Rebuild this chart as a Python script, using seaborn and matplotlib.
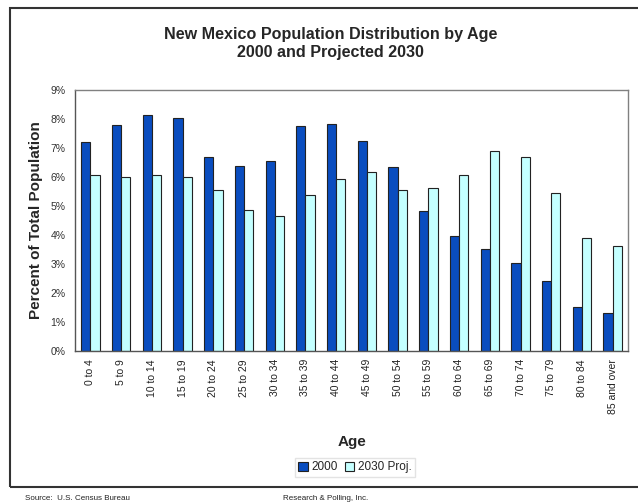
import matplotlib
matplotlib.use("Agg")
import matplotlib.pyplot as plt
from matplotlib.patches import Rectangle
from matplotlib.ticker import FixedLocator
import seaborn as sns
import pandas as pd

# Age groups and share of total population (percent)
age_groups = ["0 to 4", "5 to 9", "10 to 14", "15 to 19", "20 to 24", "25 to 29",
              "30 to 34", "35 to 39", "40 to 44", "45 to 49", "50 to 54", "55 to 59",
              "60 to 64", "65 to 69", "70 to 74", "75 to 79", "80 to 84", "85 and over"]
pct_2000 = [7.21, 7.79, 8.13, 8.03, 6.69, 6.37, 6.55, 7.74, 7.82, 7.22,
            6.33, 4.81, 3.96, 3.50, 3.01, 2.41, 1.52, 1.29]
pct_2030 = [6.07, 6.00, 6.07, 6.00, 5.53, 4.84, 4.66, 5.36, 5.91, 6.15,
            5.53, 5.62, 6.06, 6.90, 6.67, 5.44, 3.90, 3.62]
series_names = ["2000", "2030 Proj."]
y_ticks = [0, 1, 2, 3, 4, 5, 6, 7, 8, 9]

df = pd.DataFrame({
    "Age": age_groups * 2,
    "Percent": pct_2000 + pct_2030,
    "Series": [series_names[0]] * len(age_groups) + [series_names[1]] * len(age_groups),
})

sns.set_style("white")
plt.rcParams["font.family"] = ["Liberation Sans", "DejaVu Sans"]

fig = plt.figure(figsize=(6.38, 5.04), dpi=100)
ax = fig.add_axes([0.1176, 0.304, 0.8668, 0.518])

sns.barplot(data=df, x="Age", y="Percent", hue="Series", order=age_groups,
            hue_order=series_names, palette=["#0A4DBF", "#C4FFFF"],
            saturation=1, width=0.6, edgecolor="#222222", linewidth=0.8, ax=ax)

ax.set_xlim(-0.5, len(age_groups) - 0.5)
ax.set_ylim(0, 9)
ax.set_yticks(y_ticks)
ax.set_yticklabels([f"{v}%" for v in y_ticks], fontsize=7.5, color="#333333")
ax.set_xticks(range(len(age_groups)))
ax.set_xticklabels(age_groups, rotation=90, fontsize=7.5, color="#222222")
ax.xaxis.set_minor_locator(FixedLocator([i - 0.5 for i in range(len(age_groups) + 1)]))
ax.tick_params(axis="x", which="major", length=0, pad=6)
ax.tick_params(axis="x", which="minor", length=4, width=0.8, color="#999999", direction="out")
ax.tick_params(axis="y", which="major", length=4, width=0.8, color="#777777", direction="out", pad=3)
ax.grid(False)

for side in ["top", "right"]:
    ax.spines[side].set_color("#808080")
    ax.spines[side].set_linewidth(1.0)
for side in ["left", "bottom"]:
    ax.spines[side].set_color("#555555")
    ax.spines[side].set_linewidth(1.0)

ax.set_xlabel("Age", fontsize=11, fontweight="bold", labelpad=15)
ax.set_ylabel("Percent of Total Population", fontsize=11, fontweight="bold", labelpad=5)

handles, labels = ax.get_legend_handles_labels()
ax.get_legend().remove()
fig.legend(handles, labels, loc="center", bbox_to_anchor=(0.556, 0.073), ncol=2,
           fontsize=8.5, frameon=True, fancybox=False, edgecolor="#dddddd",
           handlelength=0.8, handleheight=0.8, handletextpad=0.3, columnspacing=0.6,
           borderpad=0.3, borderaxespad=0)

fig.text(0.518, 0.9137, "New Mexico Population Distribution by Age\n2000 and Projected 2030",
         ha="center", va="center", fontsize=11.6, fontweight="bold", linespacing=1.3)

# Outer frame around the chart area
fig.add_artist(Rectangle((10 / 638, 1 - 487 / 504), 1.1, (487 - 8) / 504,
                         transform=fig.transFigure, fill=False, edgecolor="#333333",
                         linewidth=1.5, clip_on=False))

fig.text(25 / 638, 1 - 499 / 504, "Source:  U.S. Census Bureau", fontsize=5.8,
         va="center", ha="left", color="#222222")
fig.text(283 / 638, 1 - 499 / 504, "Research & Polling, Inc.", fontsize=5.8,
         va="center", ha="left", color="#222222")

fig.savefig("out.png", dpi=100)
